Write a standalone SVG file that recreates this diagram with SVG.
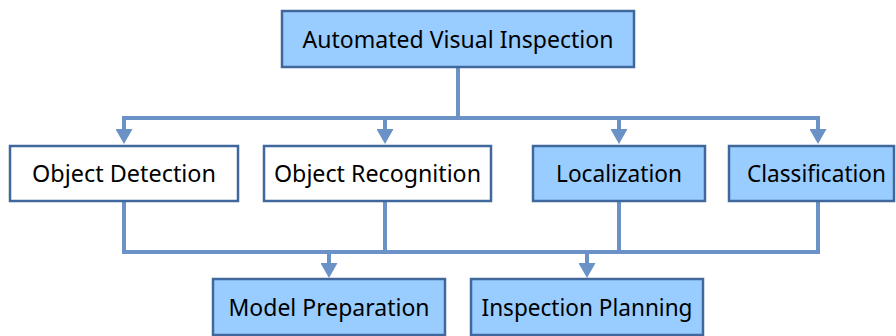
<svg xmlns="http://www.w3.org/2000/svg" width="896" height="336" viewBox="0 0 896 336">
<style>
.box{stroke:#41689C;stroke-width:2.5}
.blue{fill:#99CCFF}
.white{fill:#FFFFFF}
.lbl{font-family:"Noto Sans","DejaVu Sans",sans-serif;font-size:23px;fill:#000;text-anchor:middle}
.con{fill:none;stroke:#6A92C6;stroke-width:4;stroke-linejoin:miter}
</style>
<defs>
<marker id="arr" viewBox="0 0 15 17" refX="0" refY="8.5" markerWidth="15" markerHeight="17" markerUnits="userSpaceOnUse" orient="auto">
<path d="M0,0 L15,8.5 L0,17 z" fill="#6A92C6"/>
</marker>
</defs>
<rect width="896" height="336" fill="#FFFFFF"/>
<g id="connectors">
<path class="con" d="M458,67 V118 H124 V129" marker-end="url(#arr)"/>
<path class="con" d="M458,118 H385 V129" marker-end="url(#arr)"/>
<path class="con" d="M458,118 H619 V129" marker-end="url(#arr)"/>
<path class="con" d="M458,118 H818 V129" marker-end="url(#arr)"/>
<path class="con" d="M124,201 V252 H818 V201"/>
<path class="con" d="M385,201 V252"/>
<path class="con" d="M619,201 V252"/>
<path class="con" d="M329,252 V263" marker-end="url(#arr)"/>
<path class="con" d="M587,252 V263" marker-end="url(#arr)"/>
</g>
<g id="node-avi">
<rect class="box blue" x="282" y="11" width="352" height="56"/>
<text class="lbl" x="458" y="47.5" textLength="311" lengthAdjust="spacingAndGlyphs">Automated Visual Inspection</text>
</g>
<g id="node-od">
<rect class="box white" x="10" y="146" width="228" height="55"/>
<text class="lbl" x="124" y="182" textLength="184" lengthAdjust="spacingAndGlyphs">Object Detection</text>
</g>
<g id="node-or">
<rect class="box white" x="264" y="146" width="227" height="55"/>
<text class="lbl" x="377.5" y="182" textLength="207" lengthAdjust="spacingAndGlyphs">Object Recognition</text>
</g>
<g id="node-loc">
<rect class="box blue" x="533" y="146" width="172" height="55"/>
<text class="lbl" x="619" y="182" textLength="126" lengthAdjust="spacingAndGlyphs">Localization</text>
</g>
<g id="node-cls">
<rect class="box blue" x="729" y="146" width="165" height="55"/>
<text class="lbl" x="816.5" y="182" textLength="139" lengthAdjust="spacingAndGlyphs">Classification</text>
</g>
<g id="node-mp">
<rect class="box blue" x="213" y="279" width="232" height="56"/>
<text class="lbl" x="329" y="315.5" textLength="201" lengthAdjust="spacingAndGlyphs">Model Preparation</text>
</g>
<g id="node-ip">
<rect class="box blue" x="471" y="279" width="232" height="56"/>
<text class="lbl" x="587" y="315.5" textLength="211" lengthAdjust="spacingAndGlyphs">Inspection Planning</text>
</g>
</svg>
